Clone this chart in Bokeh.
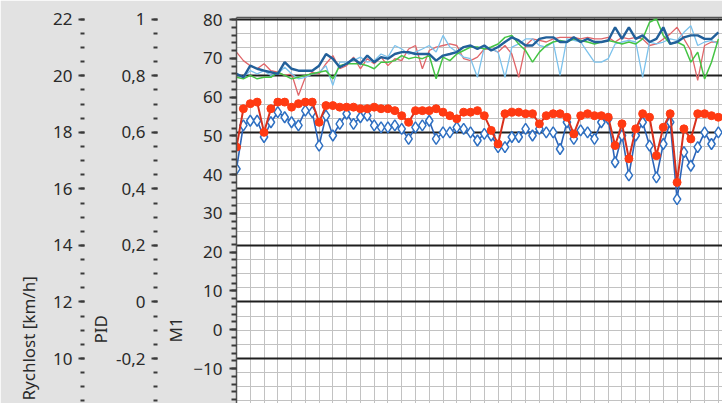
from bokeh.plotting import figure
from bokeh.models import Range1d, LinearAxis, SingleIntervalTicker, FixedTicker, Grid, Title
from bokeh.embed import file_html
from bokeh.resources import INLINE

# ---------------- data (M1 scale) ----------------
sample = list(range(71))

steel = [66.0, 65.1, 68.1, 67.3, 66.8, 66.4, 66.0, 69.0, 67.3, 66.8, 66.8, 66.8, 68.1,
         71.1, 69.9, 67.7, 68.6, 69.9, 68.6, 70.7, 69.0, 70.3, 69.9, 71.1, 71.6,
         71.6, 71.1, 71.1, 71.1, 69.4, 70.7, 71.1, 71.6, 72.9, 73.3, 72.4, 73.3, 72.0,
         72.9, 74.2, 75.4, 74.6, 73.3, 73.3, 75.0, 75.4, 75.4, 74.2,
         74.2, 75.4, 74.2, 75.0, 74.2, 74.2, 74.6, 78.0, 75.0, 78.0, 75.0, 75.9,
         74.2, 75.0, 78.0, 73.7, 74.2, 75.4, 75.9, 75.9, 75.0, 75.0, 76.7]

green = [65.1, 64.7, 65.6, 64.7, 65.1, 65.1, 66.4, 65.6, 64.7, 65.1, 65.6, 66.0, 66.4,
         66.8, 64.7, 68.1, 68.6, 68.6, 68.6, 68.1, 67.3, 69.0, 69.0, 69.4, 70.7,
         69.9, 70.3, 69.9, 70.7, 64.7, 70.3, 69.4, 71.1, 72.0, 72.9, 72.9, 72.4, 72.9,
         73.7, 75.4, 75.9, 73.7, 72.0, 69.0, 71.6, 73.3, 74.2, 74.6,
         74.2, 75.0, 74.6, 74.2, 73.7, 74.2, 74.6, 74.2, 73.7, 74.2, 73.7, 75.0,
         79.3, 80.2, 75.9, 73.7, 74.2, 73.3, 69.0, 71.6, 64.7, 69.0, 75.0]

salmon = [71.6, 69.4, 68.1, 67.3, 68.6, 66.8, 66.4, 65.6, 66.0, 60.4, 65.1, 66.4, 66.0,
          68.6, 70.7, 67.3, 68.1, 70.3, 67.3, 69.9, 68.6, 70.3, 68.1, 69.9, 69.4,
          72.4, 73.3, 67.3, 72.0, 72.9, 73.3, 73.7, 73.3, 69.9, 69.4, 70.3, 72.4, 72.4,
          71.6, 73.3, 71.1, 65.1, 73.3, 75.0, 74.6, 74.2, 75.0, 75.4,
          75.4, 75.4, 75.0, 75.4, 75.0, 75.0, 75.4, 74.2, 75.4, 75.0, 75.4, 75.0,
          73.3, 73.7, 75.0, 76.3, 78.0, 75.0, 72.0, 64.3, 73.3, 74.2, 74.2]

skyblue = [66.0, 65.1, 66.8, 66.0, 66.8, 65.6, 66.0, 67.7, 66.0, 64.7, 65.1, 66.0, 66.4,
           68.1, 63.0, 69.0, 69.0, 69.4, 70.3, 69.0, 69.4, 71.1, 70.3, 73.3, 72.4,
           71.1, 71.6, 72.4, 73.3, 71.6, 75.9, 72.9, 71.6, 70.3, 69.9, 65.1, 72.9, 72.4,
           71.6, 65.1, 72.9, 73.7, 75.0, 75.0, 73.3, 72.9, 74.2, 65.6,
           75.0, 74.6, 74.2, 71.6, 69.0, 69.0, 69.9, 73.7, 74.2, 74.6, 74.2, 65.1,
           74.2, 73.7, 74.2, 75.0, 74.6, 76.7, 78.4, 73.3, 74.2, 74.6, 73.7]

red_dots = [47.1, 57.0, 58.3, 58.7, 50.9, 57.0, 58.7, 58.7, 57.4, 58.3, 58.7, 58.7,
            53.5, 57.8, 57.8, 57.4, 57.4, 57.4, 57.0, 57.0, 57.4, 57.0, 57.0, 56.5,
            55.2, 53.5, 56.5, 56.5, 56.5, 57.0, 56.1, 55.2, 54.4, 56.1, 56.1, 56.5,
            55.2, 51.4, 47.9, 55.7, 56.1, 56.1, 55.7, 55.7, 53.1, 55.2, 55.7, 55.7,
            54.8, 50.5, 55.2, 55.7, 55.2, 55.2, 54.8, 47.5, 53.1, 44.1, 51.8, 55.7,
            54.8, 44.9, 52.2, 55.7, 38.0, 51.8, 49.2, 55.7, 55.7, 55.2, 54.8]

blue_diamonds = [41.5, 52.7, 53.9, 53.9, 49.7, 53.5, 56.1, 54.8, 53.5, 52.7, 56.5, 56.1,
                 47.5, 55.2, 50.1, 53.1, 55.7, 53.1, 54.8, 55.2, 52.7, 52.2, 52.2, 52.7,
                 51.8, 49.2, 52.2, 52.7, 53.9, 49.2, 50.9, 50.9, 52.2, 51.8, 50.9, 48.8,
                 50.5, 50.1, 47.1, 47.1, 49.7, 49.7, 51.8, 50.1, 51.8, 50.9, 50.9, 46.6,
                 53.5, 49.2, 51.4, 50.9, 49.2, 53.5, 54.4, 43.2, 50.1, 39.8, 50.1, 53.5,
                 47.5, 39.3, 47.9, 53.5, 33.7, 45.8, 42.3, 47.1, 50.9, 47.9, 50.9]

pid_ticks = [-0.2, 0, 0.2, 0.4, 0.6, 0.8, 1]
pid_labels = ["-0,2", "0", "0,2", "0,4", "0,6", "0,8", "1"]

# ---------------- figure ----------------
FONT = "Noto Sans"
TXT = "#2a2a2a"
TICK = "#3a3a3a"

p = figure(width=722, height=403, output_backend="svg", toolbar_location=None,
           x_axis_location=None, y_axis_location=None,
           x_range=Range1d(0, 70.6), y_range=Range1d(8.41, 22.06),
           min_border_left=236, min_border_top=17, min_border_right=0, min_border_bottom=0)
p.extra_y_ranges = {"m1": Range1d(-19.02, 80.52), "pid": Range1d(-0.359, 1.006)}
p.border_fill_color = "#e2e2e2"
p.background_fill_color = "white"
p.outline_line_color = None


def style(ax, tick_out, minor_out, standoff):
    ax.major_tick_out = tick_out
    ax.major_tick_in = 0
    ax.minor_tick_out = minor_out
    ax.minor_tick_in = 0
    ax.major_tick_line_color = TICK
    ax.major_tick_line_width = 2
    ax.minor_tick_line_color = TICK
    ax.minor_tick_line_width = 2
    ax.major_label_text_font = FONT
    ax.major_label_text_font_size = "17px"
    ax.major_label_text_color = TXT
    ax.major_label_standoff = standoff


def axis_title(text, offset, standoff):
    return Title(text=text, align="left", vertical_align="bottom", offset=offset,
                 standoff=standoff, text_font=FONT, text_font_size="17px",
                 text_font_style="normal", text_color=TXT)


m1_axis = LinearAxis(y_range_name="m1",
                     ticker=SingleIntervalTicker(interval=10, num_minor_ticks=5))
style(m1_axis, 7, 5, 7)
m1_axis.axis_line_color = "#555555"
m1_axis.axis_line_width = 1.5

pid_axis = LinearAxis(y_range_name="pid",
                      ticker=FixedTicker(ticks=pid_ticks,
                                         minor_ticks=[i * 0.05 for i in range(-8, 21)]))
pid_axis.major_label_overrides = dict(zip(pid_ticks, pid_labels))
style(pid_axis, 6, 4, 6)
pid_axis.axis_line_color = None

ry_axis = LinearAxis(ticker=SingleIntervalTicker(interval=2, num_minor_ticks=4))
style(ry_axis, 6, 4, 6)
ry_axis.axis_line_color = None

p.add_layout(m1_axis, "left")
p.add_layout(axis_title("M1", 61, 8), "left")
p.add_layout(pid_axis, "left")
p.add_layout(axis_title("PID", 60, 4), "left")
p.add_layout(ry_axis, "left")
p.add_layout(axis_title("Rychlost [km/h]", 3, 21), "left")

top = LinearAxis(ticker=FixedTicker(ticks=[]), axis_line_color="#555555", axis_line_width=1.5,
                 major_tick_out=0, major_tick_in=0, minor_tick_out=0, minor_tick_in=0,
                 major_label_standoff=0)
p.add_layout(top, "above")

vgrid = Grid(dimension=0, ticker=SingleIntervalTicker(interval=2),
             grid_line_color="#c2c2c2", grid_line_width=1)
hgrid = Grid(dimension=1, ticker=SingleIntervalTicker(interval=2, num_minor_ticks=4),
             grid_line_color="#1e1e1e", grid_line_width=2,
             minor_grid_line_color="#c2c2c2", minor_grid_line_width=1)
p.add_layout(vgrid)
p.add_layout(hgrid)

# ---------------- series ----------------
p.line(sample, salmon, y_range_name="m1", line_color="#e0666a", line_width=1.3)
p.line(sample, skyblue, y_range_name="m1", line_color="#7cc2ec", line_width=1.3)
p.line(sample, green, y_range_name="m1", line_color="#44c444", line_width=1.5)
p.line(sample, steel, y_range_name="m1", line_color="#22609a", line_width=2.4)

p.line(sample, blue_diamonds, y_range_name="m1", line_color="#2c64b8", line_width=1.6)
p.scatter(sample, blue_diamonds, y_range_name="m1", marker="diamond", size=11,
          fill_color="white", line_color="#2f70c2", line_width=1.5)
p.line(sample, red_dots, y_range_name="m1", line_color="#d8301c", line_width=2)
p.scatter(sample, red_dots, y_range_name="m1", marker="circle", size=8,
          fill_color="#ff3a12", line_color="#ff3a12")

open("out.html", "w").write(file_html(p, INLINE))
